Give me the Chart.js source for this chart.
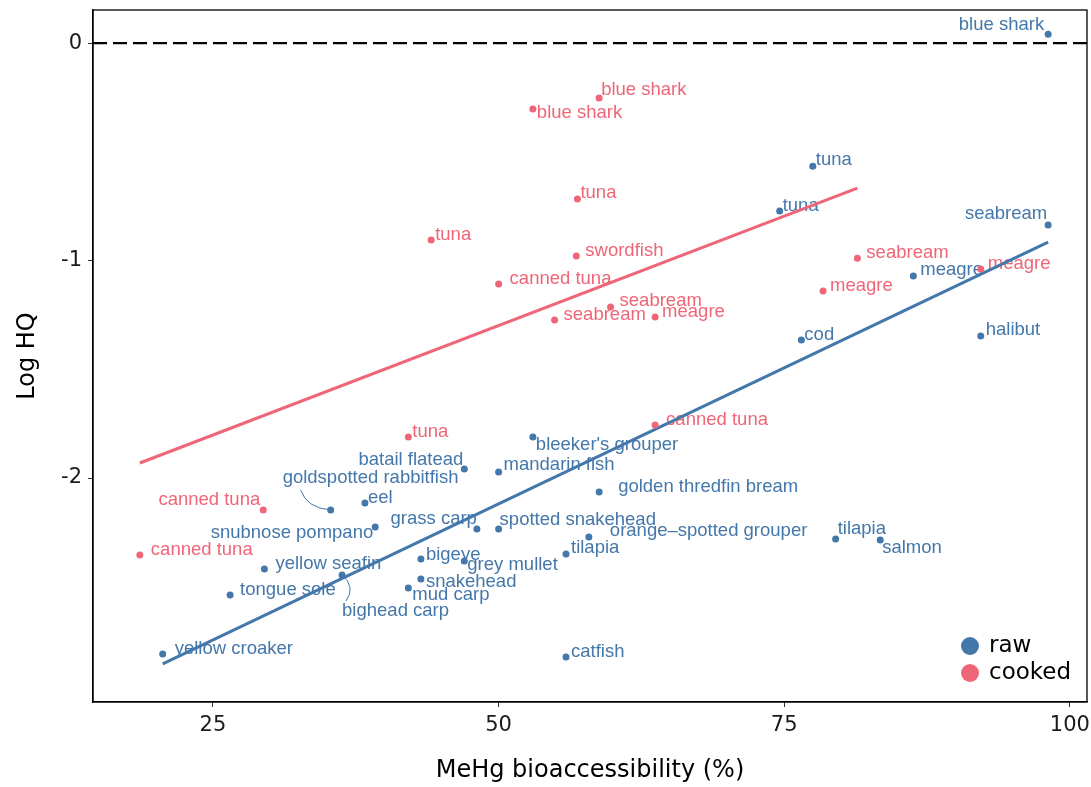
<!DOCTYPE html>
<html>
<head>
<meta charset="utf-8">
<script src="https://cdn.jsdelivr.net/npm/chart.js@4/dist/chart.umd.min.js"></script>
<style>
  html, body { margin: 0; padding: 0; background: #fff; }
  #wrap { width: 1091px; height: 787px; }
</style>
</head>
<body>
<div id="wrap"><canvas id="hq-chart" width="1091" height="787"></canvas></div>
<script>
// MeHg bioaccessibility (%) vs Log HQ, raw and cooked fish

const RAW_COLOR = '#4477AA';
const COOKED_COLOR = '#EE6677';

// raw samples
const rawNames = ['blue shark', 'tuna', 'tuna', 'seabream', 'meagre', 'halibut', 'cod',
  "bleeker's grouper", 'batail flatead', 'mandarin fish', 'golden thredfin bream',
  'goldspotted rabbitfish', 'eel', 'snubnose pompano', 'grass carp', 'spotted snakehead',
  'orange\u2013spotted grouper', 'tilapia', 'tilapia', 'salmon', 'bigeye', 'grey mullet',
  'yellow seafin', 'bighead carp', 'snakehead', 'mud carp', 'tongue sole', 'yellow croaker', 'catfish'];
const rawX = [98.1, 77.5, 74.6, 98.1, 86.3, 92.2, 76.5,
  53.0, 47.0, 50.0, 58.8,
  35.3, 38.3, 39.2, 48.1, 50.0,
  57.9, 55.9, 79.5, 83.4, 43.2, 47.0,
  29.5, 36.3, 43.2, 42.1, 26.5, 20.6, 55.9];
const rawY = [0.04, -0.566, -0.772, -0.837, -1.071, -1.347, -1.366,
  -1.811, -1.959, -1.972, -2.064,
  -2.147, -2.115, -2.225, -2.234, -2.234,
  -2.271, -2.349, -2.280, -2.285, -2.372, -2.382,
  -2.418, -2.446, -2.464, -2.506, -2.538, -2.809, -2.823];

// cooked samples
const cookedNames = ['blue shark', 'blue shark', 'tuna', 'tuna', 'swordfish', 'canned tuna',
  'seabream', 'seabream', 'meagre', 'seabream', 'meagre', 'meagre', 'tuna',
  'canned tuna', 'canned tuna', 'canned tuna'];
const cookedX = [58.8, 53.0, 56.9, 44.1, 56.8, 50.0,
  59.8, 54.9, 63.7, 81.4, 78.4, 92.2, 42.1,
  63.7, 29.4, 18.6];
const cookedY = [-0.253, -0.303, -0.717, -0.906, -0.979, -1.108,
  -1.214, -1.274, -1.260, -0.989, -1.140, -1.039, -1.811,
  -1.756, -2.147, -2.354];

// linear fits (end points)
const rawFitX = [20.6, 98.1];
const rawFitY = [-2.855, -0.915];
const cookedFitX = [18.6, 81.4];
const cookedFitY = [-1.931, -0.667];

const xTicks = [25, 50, 75, 100];
const yTicks = [-2, -1, 0];

// label placement (pixel offset from the point, like ggrepel output)
const rawLabelDx = [-4, 3, 3, -1, 7, 5, 3, 3, -1, 5, 19, -48, 3, -2, 0, 1, 21, 5, 2, 2, 5, 3, 11, 0, 5, 4, 10, 12, 5];
const rawLabelDy = [-9, -6, -5, -11, -6, -6, -5, 8, -9, -7, -5, -32, -5, 6, -10, -9, -6, -6, -10, 8, -4, 4, -5, 36, 3, 7, -5, -5, -5];
const rawLabelAlign = ['r', 'l', 'l', 'r', 'l', 'l', 'l', 'l', 'r', 'l', 'l', 'l', 'l', 'r', 'r', 'l', 'l', 'l', 'l', 'l', 'l', 'l', 'l', 'l', 'l', 'l', 'l', 'l', 'l'];
const cookedLabelDx = [2, 4, 3, 4, 9, 11, 9, 9, 7, 9, 7, 7, 4, 11, -3, 11];
const cookedLabelDy = [-8, 4, -6, -5, -5, -5, -6, -5, -5, -5, -5, -5, -5, -5, -10, -5];
const cookedLabelAlign = ['l', 'l', 'l', 'l', 'l', 'l', 'l', 'l', 'l', 'l', 'l', 'l', 'l', 'l', 'r', 'l'];

const toPts = (xs, ys) => xs.map((x, i) => ({ x, y: ys[i] }));

// dashed reference line at log HQ = 0 and full panel border
const panelPlugin = {
  id: 'panel',
  beforeDatasetsDraw(chart) {
    const { ctx, chartArea: a, scales } = chart;
    const y0 = scales.y.getPixelForValue(0);
    ctx.save();
    ctx.strokeStyle = '#000';
    ctx.lineWidth = 2.2;
    ctx.setLineDash([14, 6]);
    ctx.beginPath();
    ctx.moveTo(a.left, y0);
    ctx.lineTo(a.right, y0);
    ctx.stroke();
    ctx.restore();
  },
  afterDraw(chart) {
    const { ctx, chartArea: a } = chart;
    ctx.save();
    ctx.strokeStyle = '#000';
    ctx.lineWidth = 1.3;
    ctx.strokeRect(a.left, a.top, a.right - a.left, a.bottom - a.top);
    ctx.restore();
  }
};

// point labels with a few leader lines
const labelPlugin = {
  id: 'pointLabels',
  beforeDatasetsDraw(chart) {
    const { ctx, scales } = chart;
    const groups = [
      { names: rawNames, xs: rawX, ys: rawY, dx: rawLabelDx, dy: rawLabelDy, al: rawLabelAlign, color: RAW_COLOR },
      { names: cookedNames, xs: cookedX, ys: cookedY, dx: cookedLabelDx, dy: cookedLabelDy, al: cookedLabelAlign, color: COOKED_COLOR }
    ];
    ctx.save();
    ctx.font = '18.5px "Liberation Sans", Arial, sans-serif';
    ctx.textBaseline = 'middle';
    groups.forEach(g => {
      ctx.fillStyle = g.color;
      g.names.forEach((name, i) => {
        const px = scales.x.getPixelForValue(g.xs[i]);
        const py = scales.y.getPixelForValue(g.ys[i]);
        ctx.textAlign = g.al[i] === 'r' ? 'right' : 'left';
        ctx.fillText(name, px + g.dx[i], py + g.dy[i]);
      });
    });
    // leader lines: goldspotted rabbitfish, bighead carp
    ctx.strokeStyle = RAW_COLOR;
    ctx.lineWidth = 1;
    const gi = rawNames.indexOf('goldspotted rabbitfish');
    let px = scales.x.getPixelForValue(rawX[gi]), py = scales.y.getPixelForValue(rawY[gi]);
    ctx.beginPath();
    ctx.moveTo(px, py);
    ctx.quadraticCurveTo(px - 24, py - 2, px - 30, py - 20);
    ctx.stroke();
    const bi = rawNames.indexOf('bighead carp');
    px = scales.x.getPixelForValue(rawX[bi]); py = scales.y.getPixelForValue(rawY[bi]);
    ctx.beginPath();
    ctx.moveTo(px, py);
    ctx.quadraticCurveTo(px + 14, py + 12, px + 4, py + 26);
    ctx.stroke();
    ctx.restore();
  }
};

// legend inside the panel, bottom right
const legendPlugin = {
  id: 'insetLegend',
  afterDraw(chart) {
    const { ctx, chartArea: a } = chart;
    const items = [['raw', RAW_COLOR], ['cooked', COOKED_COLOR]];
    ctx.save();
    ctx.font = '23px "DejaVu Sans", Verdana, sans-serif';
    ctx.textBaseline = 'middle';
    ctx.textAlign = 'left';
    items.forEach(([txt, col], i) => {
      const cy = a.bottom - 56 + i * 27;
      ctx.fillStyle = col;
      ctx.beginPath();
      ctx.arc(a.right - 117, cy, 9, 0, Math.PI * 2);
      ctx.fill();
      ctx.fillStyle = '#000';
      ctx.fillText(txt, a.right - 98, cy);
    });
    ctx.restore();
  }
};

const tickFont = { family: '"DejaVu Sans", Verdana, sans-serif', size: 21 };
const titleFont = { family: '"DejaVu Sans", Verdana, sans-serif', size: 24 };

new Chart(document.getElementById('hq-chart'), {
  type: 'scatter',
  data: {
    datasets: [
      { label: 'raw', data: toPts(rawX, rawY), backgroundColor: RAW_COLOR, borderWidth: 0, pointRadius: 3.5 },
      { label: 'cooked', data: toPts(cookedX, cookedY), backgroundColor: COOKED_COLOR, borderWidth: 0, pointRadius: 3.5 },
      { type: 'line', label: 'raw fit', data: toPts(rawFitX, rawFitY), borderColor: RAW_COLOR, borderWidth: 3, pointRadius: 0, fill: false },
      { type: 'line', label: 'cooked fit', data: toPts(cookedFitX, cookedFitY), borderColor: COOKED_COLOR, borderWidth: 3, pointRadius: 0, fill: false }
    ]
  },
  options: {
    responsive: false,
    animation: false,
    layout: { padding: { top: 10, right: 3, left: 0, bottom: 0 } },
    plugins: { legend: { display: false }, tooltip: { enabled: false } },
    scales: {
      x: {
        type: 'linear',
        min: 14.5,
        max: 101.5,
        afterFit: s => { s.height = 85; s.paddingLeft = 0; s.paddingRight = 0; },
        afterBuildTicks: s => { s.ticks = xTicks.map(v => ({ value: v })); },
        grid: { drawOnChartArea: false, drawTicks: true, tickLength: 5, color: '#333' },
        border: { display: true, color: '#000', width: 1.3 },
        ticks: { font: tickFont, color: '#1a1a1a', padding: 6 },
        title: { display: true, text: 'MeHg bioaccessibility (%)', font: titleFont, color: '#000', padding: { top: 0, bottom: 2 } }
      },
      y: {
        type: 'linear',
        min: -3.03,
        max: 0.152,
        afterFit: s => { s.width = 93; s.paddingTop = 0; s.paddingBottom = 0; },
        afterBuildTicks: s => { s.ticks = yTicks.map(v => ({ value: v })); },
        grid: { drawOnChartArea: false, drawTicks: true, tickLength: 5, color: '#333' },
        border: { display: true, color: '#000', width: 1.3 },
        ticks: { font: tickFont, color: '#1a1a1a', padding: 6 },
        title: { display: true, text: 'Log HQ', font: titleFont, color: '#000', padding: { top: 13, bottom: 0 } }
      }
    }
  },
  plugins: [panelPlugin, labelPlugin, legendPlugin]
});
</script>
</body>
</html>
